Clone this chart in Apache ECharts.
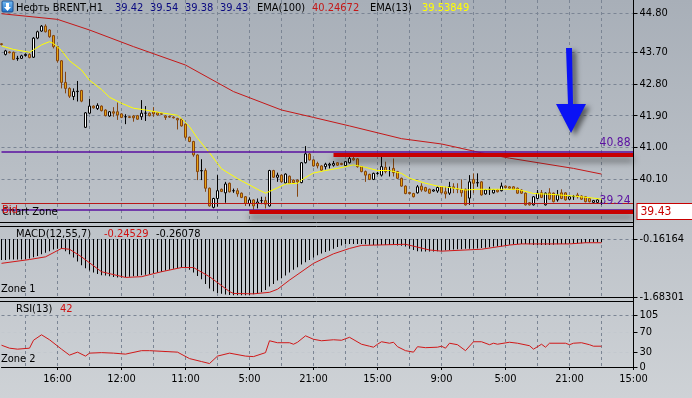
<!DOCTYPE html>
<html lang="ru">
<head>
<meta charset="UTF-8">
<title>Нефть BRENT,H1</title>
<script src="https://cdn.jsdelivr.net/npm/echarts@6.0.0/dist/echarts.min.js"></script>
<style>
    * { margin: 0; padding: 0 }
    html, body { width: 100%; height: 100%; }
    #main { width: 692px; height: 398px; }
</style>
</head>
<body>
<div id="main"></div>
<script type="text/javascript">
    // свечи H1, по порядку слева направо
    var opens = [43.93,43.63,43.70,43.69,43.51,43.52,43.60,43.63,43.55,44.09,
        44.29,44.43,44.32,44.16,43.85,43.45,42.84,42.67,42.44,42.58,
        42.61,41.57,41.97,42.17,42.10,42.17,42.06,41.89,42.01,42.01,
        41.95,41.87,41.87,41.89,41.90,41.87,41.97,41.97,42.01,41.98,
        41.96,41.89,41.88,41.86,41.82,41.80,41.66,41.29,41.17,40.79,
        40.34,40.35,39.85,39.31,39.56,39.82,39.72,39.99,39.78,39.78,
        39.71,39.61,39.42,39.52,39.42,39.50,39.50,39.35,40.35,40.16,
        40.22,40.00,40.19,40.08,40.08,40.01,40.57,40.82,40.65,40.55,
        40.48,40.46,40.50,40.50,40.57,40.55,40.49,40.57,40.69,40.68,
        40.46,40.32,40.24,40.10,40.27,40.22,40.44,40.35,40.41,40.32,
        40.13,39.91,39.73,39.70,39.72,39.91,39.87,39.82,39.77,39.77,
        39.89,39.75,39.71,39.89,39.82,39.82,39.82,39.57,40.10,40.00,
        40.03,39.69,39.81,39.72,39.80,39.78,39.91,39.89,39.89,39.85,
        39.80,39.71,39.44,39.38,39.56,39.72,39.38,39.72,39.71,39.52,
        39.72,39.72,39.54,39.61,39.66,39.63,39.61,39.56,39.45,39.45,
        39.42];
    var closes = [43.91,43.73,43.68,43.49,43.52,43.59,43.63,43.54,44.09,44.27,
        44.43,44.27,44.13,43.85,43.45,42.84,42.67,42.45,42.58,42.59,
        42.31,41.98,42.17,42.12,42.19,42.04,41.90,42.01,41.97,41.92,
        41.85,41.87,41.85,41.84,41.80,41.97,41.97,41.90,41.95,41.92,
        41.94,41.85,41.86,41.84,41.78,41.61,41.29,41.17,40.79,40.32,
        40.35,39.85,39.35,39.56,39.78,39.76,39.97,39.75,39.78,39.69,
        39.59,39.42,39.52,39.35,39.46,39.50,39.40,40.35,40.16,40.22,
        40.03,40.25,39.99,40.01,40.03,40.57,40.82,40.65,40.48,40.48,
        40.36,40.53,40.53,40.55,40.50,40.52,40.60,40.69,40.65,40.46,
        40.32,40.22,40.10,40.27,40.27,40.46,40.32,40.35,40.29,40.13,
        39.91,39.70,39.70,39.61,39.89,39.80,39.77,39.71,39.80,39.87,
        39.72,39.69,39.89,39.85,39.82,39.72,39.38,40.03,39.99,40.01,
        39.66,39.80,39.82,39.80,39.75,39.91,39.87,39.85,39.82,39.71,
        39.71,39.38,39.38,39.61,39.71,39.59,39.71,39.54,39.47,39.66,
        39.56,39.52,39.61,39.62,39.61,39.54,39.47,39.47,39.50,39.52,
        39.43];
    var lows = [43.88,43.60,43.66,43.47,43.45,43.50,43.57,43.52,43.53,44.06,
        44.27,44.25,44.10,43.80,43.40,42.67,42.53,42.40,42.34,42.30,
        42.28,41.55,41.95,42.10,42.06,42.02,41.88,41.87,41.87,41.78,
        41.83,41.66,41.83,41.73,41.78,41.78,41.75,41.88,41.87,41.90,
        41.92,41.78,41.84,41.82,41.51,41.59,41.23,41.15,40.74,40.08,
        40.08,39.75,39.33,39.28,39.33,39.74,39.44,39.73,39.72,39.61,
        39.57,39.35,39.35,39.24,39.28,39.40,39.28,39.33,40.14,40.03,
        40.01,39.98,39.97,39.99,39.61,39.99,40.55,40.63,40.46,40.41,
        40.34,40.38,40.41,40.46,40.48,40.50,40.47,40.55,40.63,40.43,
        40.30,40.03,40.08,40.08,40.23,40.18,40.27,40.18,40.18,40.11,
        39.89,39.68,39.68,39.59,39.70,39.75,39.75,39.69,39.75,39.72,
        39.70,39.56,39.66,39.71,39.71,39.61,39.36,39.38,39.71,39.89,
        39.64,39.67,39.66,39.70,39.73,39.76,39.85,39.83,39.80,39.69,
        39.69,39.36,39.36,39.36,39.54,39.57,39.36,39.52,39.45,39.47,
        39.54,39.50,39.52,39.52,39.56,39.52,39.45,39.45,39.43,39.43,
        39.38];
    var highs = [43.95,43.76,43.72,43.71,43.59,43.62,43.66,43.66,44.12,44.30,
        44.46,44.48,44.34,44.18,43.87,43.47,43.14,42.70,42.67,42.88,
        42.63,42.00,42.37,42.19,42.25,42.19,42.08,42.03,42.14,42.27,
        41.97,41.94,41.89,41.92,41.92,42.34,42.17,41.99,42.14,42.00,
        41.98,41.91,41.90,41.88,41.84,41.82,41.68,41.31,41.19,40.81,
        40.67,40.41,39.87,39.58,40.22,39.84,40.03,40.01,39.84,39.85,
        39.73,39.63,39.59,39.54,39.56,39.61,39.61,40.37,40.37,40.29,
        40.24,40.27,40.21,40.10,40.10,40.59,41.04,40.84,40.67,40.60,
        40.50,40.57,40.57,40.62,40.59,40.57,40.62,40.79,40.79,40.70,
        40.48,40.35,40.26,40.29,40.31,40.79,40.60,40.46,40.69,40.34,
        40.15,39.93,39.75,39.72,39.94,39.99,39.89,39.84,39.82,39.90,
        39.91,39.89,40.03,39.99,39.99,40.10,39.84,40.22,40.27,40.27,
        40.05,39.82,39.89,39.82,39.82,40.01,39.93,39.91,39.91,39.87,
        39.82,39.73,39.46,39.63,39.80,39.80,39.73,39.85,39.73,39.80,
        39.82,39.74,39.63,39.66,39.72,39.65,39.63,39.58,39.52,39.54,
        39.54];

    // скользящие средние: [номер свечи, значение]
    var ema100 = [[0,44.78],[14,44.62],[22,44.32],[33,43.85],[46,43.33],[58,42.58],[70,42.06],
        [78,41.85],[87,41.61],[100,41.25],[110,41.10],[120,40.85],[127,40.70],[143,40.41],[150,40.25]];
    var ema13 = [[0,43.87],[3,43.77],[7,43.69],[8,43.76],[10,43.90],[12,43.99],[13,43.94],[15,43.74],
        [17,43.45],[20,43.19],[22,42.90],[25,42.64],[27,42.42],[30,42.25],[33,42.11],[36,42.06],
        [40,41.98],[44,41.91],[45,41.82],[47,41.59],[49,41.26],[52,40.85],[54,40.55],[55,40.40],
        [59,40.12],[62,39.94],[64,39.82],[66,39.71],[69,39.86],[71,39.97],[74,39.99],[75,40.08],
        [77,40.22],[78,40.28],[81,40.35],[84,40.41],[88,40.51],[91,40.44],[94,40.35],[97,40.35],
        [100,40.27],[102,40.13],[106,39.99],[109,39.91],[112,39.87],[116,39.80],[119,39.82],
        [124,39.82],[129,39.82],[133,39.70],[137,39.68],[143,39.63],[148,39.57],[150,39.54]];

    // MACD(12,55,7)
    var macdHist = [-0.71,-0.71,-0.70,-0.70,-0.70,-0.70,-0.69,-0.67,-0.64,-0.61,
        -0.56,-0.52,-0.48,-0.44,-0.42,-0.42,-0.48,-0.56,-0.65,-0.75,
        -0.85,-0.93,-0.99,-1.04,-1.08,-1.11,-1.12,-1.14,-1.16,-1.17,
        -1.17,-1.16,-1.15,-1.14,-1.13,-1.11,-1.10,-1.08,-1.06,-1.04,
        -1.02,-0.99,-0.97,-0.94,-0.92,-0.91,-0.93,-0.97,-1.04,-1.13,
        -1.22,-1.34,-1.46,-1.53,-1.58,-1.60,-1.62,-1.63,-1.64,-1.64,
        -1.64,-1.64,-1.63,-1.61,-1.60,-1.56,-1.50,-1.41,-1.34,-1.25,
        -1.19,-1.12,-1.04,-0.97,-0.90,-0.83,-0.77,-0.71,-0.65,-0.59,
        -0.54,-0.50,-0.47,-0.42,-0.37,-0.33,-0.30,-0.29,-0.29,-0.29,
        -0.29,-0.30,-0.31,-0.32,-0.32,-0.32,-0.32,-0.32,-0.32,-0.33,
        -0.34,-0.36,-0.42,-0.45,-0.48,-0.49,-0.49,-0.49,-0.49,-0.48,
        -0.47,-0.46,-0.45,-0.44,-0.43,-0.43,-0.42,-0.42,-0.42,-0.41,
        -0.40,-0.39,-0.38,-0.36,-0.35,-0.35,-0.33,-0.31,-0.30,-0.29,
        -0.29,-0.29,-0.30,-0.32,-0.32,-0.32,-0.32,-0.32,-0.31,-0.30,
        -0.29,-0.29,-0.28,-0.28,-0.27,-0.27,-0.26,-0.26,-0.25,-0.25,
        -0.25];
    var macdSignal = [[0,-0.80],[7,-0.70],[11,-0.63],[15,-0.41],[17,-0.43],[20,-0.63],[25,-1.02],
        [31,-1.17],[35,-1.15],[40,-1.02],[45,-0.91],[48,-0.91],[52,-1.15],[57,-1.54],[58,-1.59],
        [63,-1.60],[67,-1.56],[69,-1.48],[72,-1.24],[78,-0.80],[83,-0.55],[87,-0.41],[90,-0.33],
        [101,-0.30],[107,-0.45],[110,-0.48],[120,-0.43],[127,-0.32],[130,-0.29],[142,-0.29],
        [146,-0.26],[150,-0.26]];

    // RSI(13)
    var rsi = [[0,44],[2,38],[4,36],[7,38],[8,54],[10,65],[12,55],[15,36],[17,24],[19,30],[21,22],
        [22,28],[25,29],[28,28],[31,26],[35,33],[37,33],[44,30],[47,17],[50,11],[52,7],[54,22],
        [57,28],[61,22],[63,21],[66,29],[67,53],[69,49],[72,49],[73,46],[74,50],[76,63],[78,56],
        [80,53],[83,55],[85,54],[87,60],[90,46],[92,42],[93,40],[94,46],[95,51],[97,48],[98,50],
        [99,41],[101,33],[103,30],[104,41],[106,39],[109,40],[110,42],[111,38],[112,48],[114,45],
        [116,33],[118,51],[120,51],[122,45],[123,48],[124,46],[127,50],[129,48],[132,43],[133,36],
        [135,46],[136,40],[137,48],[141,48],[142,45],[143,48],[145,49],[147,45],[148,42],[150,42]];

    // подписи осей
    var timeLabels = ['16:00', '12:00', '11:00', '5:00', '21:00', '15:00', '9:00', '5:00', '21:00', '15:00'];
    var priceTicks = [44.80, 43.70, 42.80, 41.90, 41.00, 40.10];
    var macdTicks = [-1.68301, -0.16164];
    var rsiTicks = [0, 30, 70, 105];

    // уровни и линии на графике
    var purpleLevels = [40.88, 39.24];
    var bidLevel = 39.42;
    var resistance = {from: 83, value: 40.80};
    var support = {from: 62, value: 39.19};

    var headerValues = {ema100: '40.24672', ema13: '39.53849', macd: '-0.24529', signal: '-0.26078', rsi: '42'};

    var N = 159;
    var cats = [];
    var labelAt = {};
    for (var i = 0; i < N; i++) cats.push(String(i));
    for (var k = 0; k < timeLabels.length; k++) labelAt[14 + 16 * k] = timeLabels[k];

    var candles = [];
    for (var j = 0; j < opens.length; j++) {
        candles.push([opens[j], closes[j], lows[j], highs[j]]);
    }

    var FONT = '"DejaVu Sans Condensed", "Liberation Sans", sans-serif';
    var GRIDC = '#7b8594';
    var PURPLE = '#5a10a0';
    var RED = '#c80000';

    function isLabel(idx) { return labelAt[idx] !== undefined; }
    function isGrid(idx) { return (idx - 6) % 8 === 0; }

    function xAxisFor(g) {
        return {
            type: 'category', gridIndex: g, data: cats, boundaryGap: false,
            axisLine: {show: g === 2, lineStyle: {color: '#000'}},
            axisTick: {show: g === 2, interval: isLabel, length: 3, lineStyle: {color: '#000'}},
            axisLabel: {
                show: g === 2, interval: isLabel, margin: 7, color: '#000', fontSize: 11, fontFamily: FONT,
                formatter: function (v, idx) { return labelAt[idx] || ''; }
            },
            splitLine: {show: true, interval: isGrid, lineStyle: {color: GRIDC, type: [3, 3], width: 1}}
        };
    }

    function yAxisFor(g, min, max, ticks, fmt, splitColors) {
        return {
            type: 'value', gridIndex: g, position: 'right', min: min, max: max,
            axisLine: {show: false},
            axisTick: {show: true, customValues: ticks, length: 4, lineStyle: {color: '#000'}},
            axisLabel: {customValues: ticks, formatter: fmt, margin: 6, color: '#000', fontSize: 11, fontFamily: FONT},
            splitLine: {show: true, lineStyle: {color: splitColors || GRIDC, type: [3, 3], width: 1}}
        };
    }

    function txt(x, y, text, color) {
        return {type: 'text', x: x, y: y, silent: true, z: 100,
            style: {text: text, fill: color || '#000', font: '11px ' + FONT, verticalAlign: 'middle'}};
    }
    function hline(y, x1, x2) {
        return {type: 'line', silent: true, z: 90, shape: {x1: x1, y1: y, x2: x2, y2: y},
            style: {stroke: '#000', lineWidth: 1}};
    }

    var myChart = echarts.init(document.getElementById('main'));

    var option = {
        animation: false,
        backgroundColor: {
            type: 'linear', x: 0, y: 0, x2: 0, y2: 1,
            colorStops: [{offset: 0, color: '#a8afb8'}, {offset: 1, color: '#ced2d6'}]
        },
        grid: [
            {left: 1.5, right: 58.5, top: 0, height: 222},
            {left: 1.5, right: 58.5, top: 239, height: 58},
            {left: 1.5, right: 58.5, top: 315, height: 52}
        ],
        xAxis: [xAxisFor(0), xAxisFor(1), xAxisFor(2)],
        yAxis: [
            yAxisFor(0, 38.896, 45.1672, priceTicks, function (v) { return v.toFixed(2); }),
            yAxisFor(1, -1.68301, -0.16164, macdTicks, function (v) { return v.toFixed(5); }),
            yAxisFor(2, 0, 105, rsiTicks, function (v) { return String(v); },
                ['rgba(0,0,0,0)', '#c3c8ce', '#c3c8ce', GRIDC])
        ],
        series: [
            {
                name: 'BRENT', type: 'candlestick', xAxisIndex: 0, yAxisIndex: 0,
                data: candles, barWidth: 3,
                itemStyle: {color: '#ffffff', color0: '#e8a311', borderColor: '#000000', borderColor0: '#85450f', borderWidth: 1},
                markLine: {
                    silent: true, symbol: ['none', 'none'], animation: false,
                    data: [
                        {yAxis: purpleLevels[0], lineStyle: {color: PURPLE, width: 1.5, type: 'solid'},
                            label: {show: true, position: 'insideEndTop', formatter: function (p) { return p.value.toFixed(2); },
                                color: PURPLE, fontSize: 12, fontFamily: FONT, distance: [3, 3]}},
                        {yAxis: purpleLevels[1], lineStyle: {color: PURPLE, width: 1.5, type: 'solid'},
                            label: {show: true, position: 'insideEndTop', formatter: function (p) { return p.value.toFixed(2); },
                                color: PURPLE, fontSize: 12, fontFamily: FONT, distance: [3, 3]}},
                        {yAxis: bidLevel, lineStyle: {color: '#b81818', width: 1, type: 'solid'}, label: {show: false}},
                        [{coord: [resistance.from, resistance.value],
                            lineStyle: {color: RED, width: 4, type: 'solid', shadowColor: 'rgba(30,30,30,0.55)', shadowBlur: 6, shadowOffsetY: 5},
                            label: {show: false}},
                            {coord: [N - 1, resistance.value]}],
                        [{coord: [support.from, support.value],
                            lineStyle: {color: RED, width: 4, type: 'solid', shadowColor: 'rgba(30,30,30,0.55)', shadowBlur: 6, shadowOffsetY: 5},
                            label: {show: true, position: 'end', distance: 4,
                                formatter: closes[closes.length - 1].toFixed(2),
                                color: RED, fontSize: 12, fontFamily: FONT, backgroundColor: '#ffffff',
                                borderColor: RED, borderWidth: 1, padding: [2, 30, 1, 3]}},
                            {coord: [N - 1, support.value]}]
                    ]
                }
            },
            {
                name: 'EMA(100)', type: 'line', xAxisIndex: 0, yAxisIndex: 0, data: ema100,
                symbol: 'none', lineStyle: {color: '#c41818', width: 1}, z: 3
            },
            {
                name: 'EMA(13)', type: 'line', xAxisIndex: 0, yAxisIndex: 0, data: ema13,
                symbol: 'none', lineStyle: {color: '#ffff00', width: 1}, z: 3
            },
            {
                name: 'MACD', type: 'bar', xAxisIndex: 1, yAxisIndex: 1, data: macdHist,
                barWidth: 1, itemStyle: {color: '#000000'}, clip: true
            },
            {
                name: 'Signal', type: 'line', xAxisIndex: 1, yAxisIndex: 1, data: macdSignal,
                symbol: 'none', lineStyle: {color: '#d01818', width: 1}, z: 3
            },
            {
                name: 'RSI', type: 'line', xAxisIndex: 2, yAxisIndex: 2, data: rsi,
                symbol: 'none', lineStyle: {color: '#d01818', width: 1}
            }
        ],
        graphic: [
            // рамки окон
            hline(222.5, 0, 633), hline(226.5, 0, 633), hline(297.5, 0, 633), hline(301.5, 0, 633),
            {type: 'line', silent: true, z: 90, shape: {x1: 633.5, y1: 0, x2: 633.5, y2: 368}, style: {stroke: '#000', lineWidth: 1}},
            // значок и заголовок
            {type: 'rect', silent: true, z: 100, shape: {x: 2, y: 1, width: 11, height: 11, r: 1},
                style: {fill: {type: 'linear', x: 0, y: 0, x2: 0, y2: 1, colorStops: [{offset: 0, color: '#7cc0f4'}, {offset: 1, color: '#1c6ec8'}]}, stroke: '#1a4f90', lineWidth: 1}},
            {type: 'polygon', silent: true, z: 101, shape: {points: [[6, 3], [9, 3], [9, 7], [11, 7], [7.5, 11], [4, 7], [6, 7]]}, style: {fill: '#ffffff'}},
            txt(16, 8, 'Нефть BRENT,H1'),
            txt(115, 8, opens[opens.length - 1].toFixed(2), '#0a0a80'),
            txt(150, 8, highs[highs.length - 1].toFixed(2), '#0a0a80'),
            txt(185, 8, lows[lows.length - 1].toFixed(2), '#0a0a80'),
            txt(220, 8, closes[closes.length - 1].toFixed(2), '#0a0a80'),
            txt(257, 8, 'EMA(100)'),
            txt(312, 8, headerValues.ema100, '#c41818'),
            txt(370, 8, 'EMA(13)'),
            txt(422, 8, headerValues.ema13, '#ffff00'),
            // подписи зон
            txt(2, 212, 'Chart Zone'),
            txt(2, 210, 'Bid', '#d01010'),
            txt(16, 234, 'MACD(12,55,7)'),
            txt(104, 234, headerValues.macd, '#d01010'),
            txt(156, 234, headerValues.signal),
            txt(1, 289, 'Zone 1'),
            txt(16, 309, 'RSI(13)'),
            txt(60, 309, headerValues.rsi, '#d01010'),
            txt(1, 359, 'Zone 2'),
            // синяя стрелка
            {type: 'polygon', silent: true, z: 95,
                shape: {points: [[566, 48], [572, 48], [573, 104], [586, 104], [571, 133], [556, 104], [568, 104]]},
                style: {fill: '#0a12f5', shadowBlur: 5, shadowColor: 'rgba(0,0,0,0.5)', shadowOffsetX: 4, shadowOffsetY: 3}}
        ]
    };

    myChart.setOption(option);
</script>
</body>
</html>
